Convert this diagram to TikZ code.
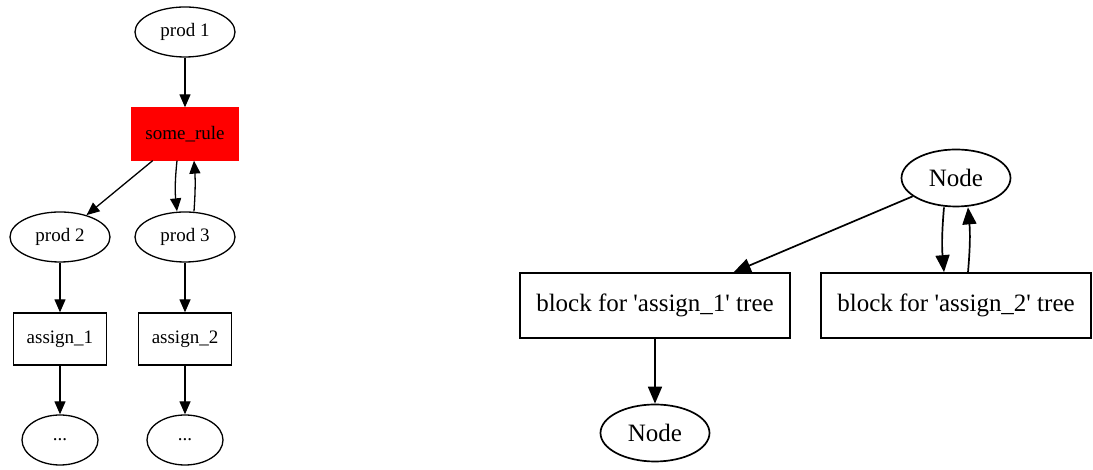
\documentclass[tikz,border=0pt]{standalone}
\usepackage{fontspec}
\setmainfont{Liberation Serif}
\usetikzlibrary{shapes.geometric, arrows.meta, positioning}

\tikzset{
 lefty/.style={font=\fontsize{19}{22}\selectfont, line width=1.3pt},
 righty/.style={font=\fontsize{25}{29}\selectfont, line width=1.7pt},
 prod/.style={ellipse, draw, inner sep=0pt, minimum width=100pt, minimum height=50pt},
 dots/.style={ellipse, draw, inner sep=0pt, minimum width=76pt, minimum height=50pt},
 assign/.style={rectangle, draw, inner sep=0pt, minimum width=93pt, minimum height=52pt},
 rule/.style={rectangle, draw=red, fill=red, inner sep=0pt, minimum width=106pt, minimum height=52pt},
 ast/.style={ellipse, draw, inner sep=0pt, minimum width=109pt, minimum height=57pt},
 block/.style={rectangle, draw, inner sep=0pt, minimum width=270pt, minimum height=65pt},
 sarr/.style={-{Triangle[length=13pt,width=11pt]}},
 barr/.style={-{Triangle[length=17pt,width=14pt]}}
}

\begin{document}
\begin{tikzpicture}[x=1pt, y=1pt]
 \useasboundingbox (0,0) rectangle (1093,470);
 % left: grammar side
 \begin{scope}[lefty]
 \node[prod] (P1) at (185, 438) {prod 1};
 \node[rule] (SR) at (185, 336) {some\_rule};
 \node[prod] (P2) at (60, 233) {prod 2};
 \node[prod] (P3) at (185, 233) {prod 3};
 \node[assign] (A1) at (60, 131) {assign\_1};
 \node[assign] (A2) at (185, 131) {assign\_2};
 \node[dots] (D1) at (60, 30) {...};
 \node[dots] (D2) at (185, 30) {...};
 \draw[sarr] (P1) -- (SR);
 \draw[sarr] (SR) -- (P2);
 \draw[sarr] ([xshift=-8pt]SR.south) to[bend right=6] ([xshift=-8pt]P3.north);
 \draw[sarr] ([xshift=9pt]P3.north) to[bend right=4] ([xshift=9pt]SR.south);
 \draw[sarr] (P2) -- (A1);
 \draw[sarr] (P3) -- (A2);
 \draw[sarr] (A1) -- (D1);
 \draw[sarr] (A2) -- (D2);
 \end{scope}
 % right: generated code side
 \begin{scope}[righty]
 \node[ast] (N1) at (956, 292) {Node};
 \node[block] (B1) at (655, 164.5) {block for \textquotesingle assign\_1\textquotesingle{} tree};
 \node[block] (B2) at (956, 164.5) {block for \textquotesingle assign\_2\textquotesingle{} tree};
 \node[ast] (N2) at (655, 37) {Node};
 \draw[barr] (N1) -- (B1);
 \draw[barr] ([xshift=-12pt]N1.south) to[bend right=5] ([xshift=-12pt]B2.north);
 \draw[barr] ([xshift=12pt]B2.north) to[bend right=5] ([xshift=12pt]N1.south);
 \draw[barr] (B1) -- (N2);
 \end{scope}
\end{tikzpicture}
\end{document}
